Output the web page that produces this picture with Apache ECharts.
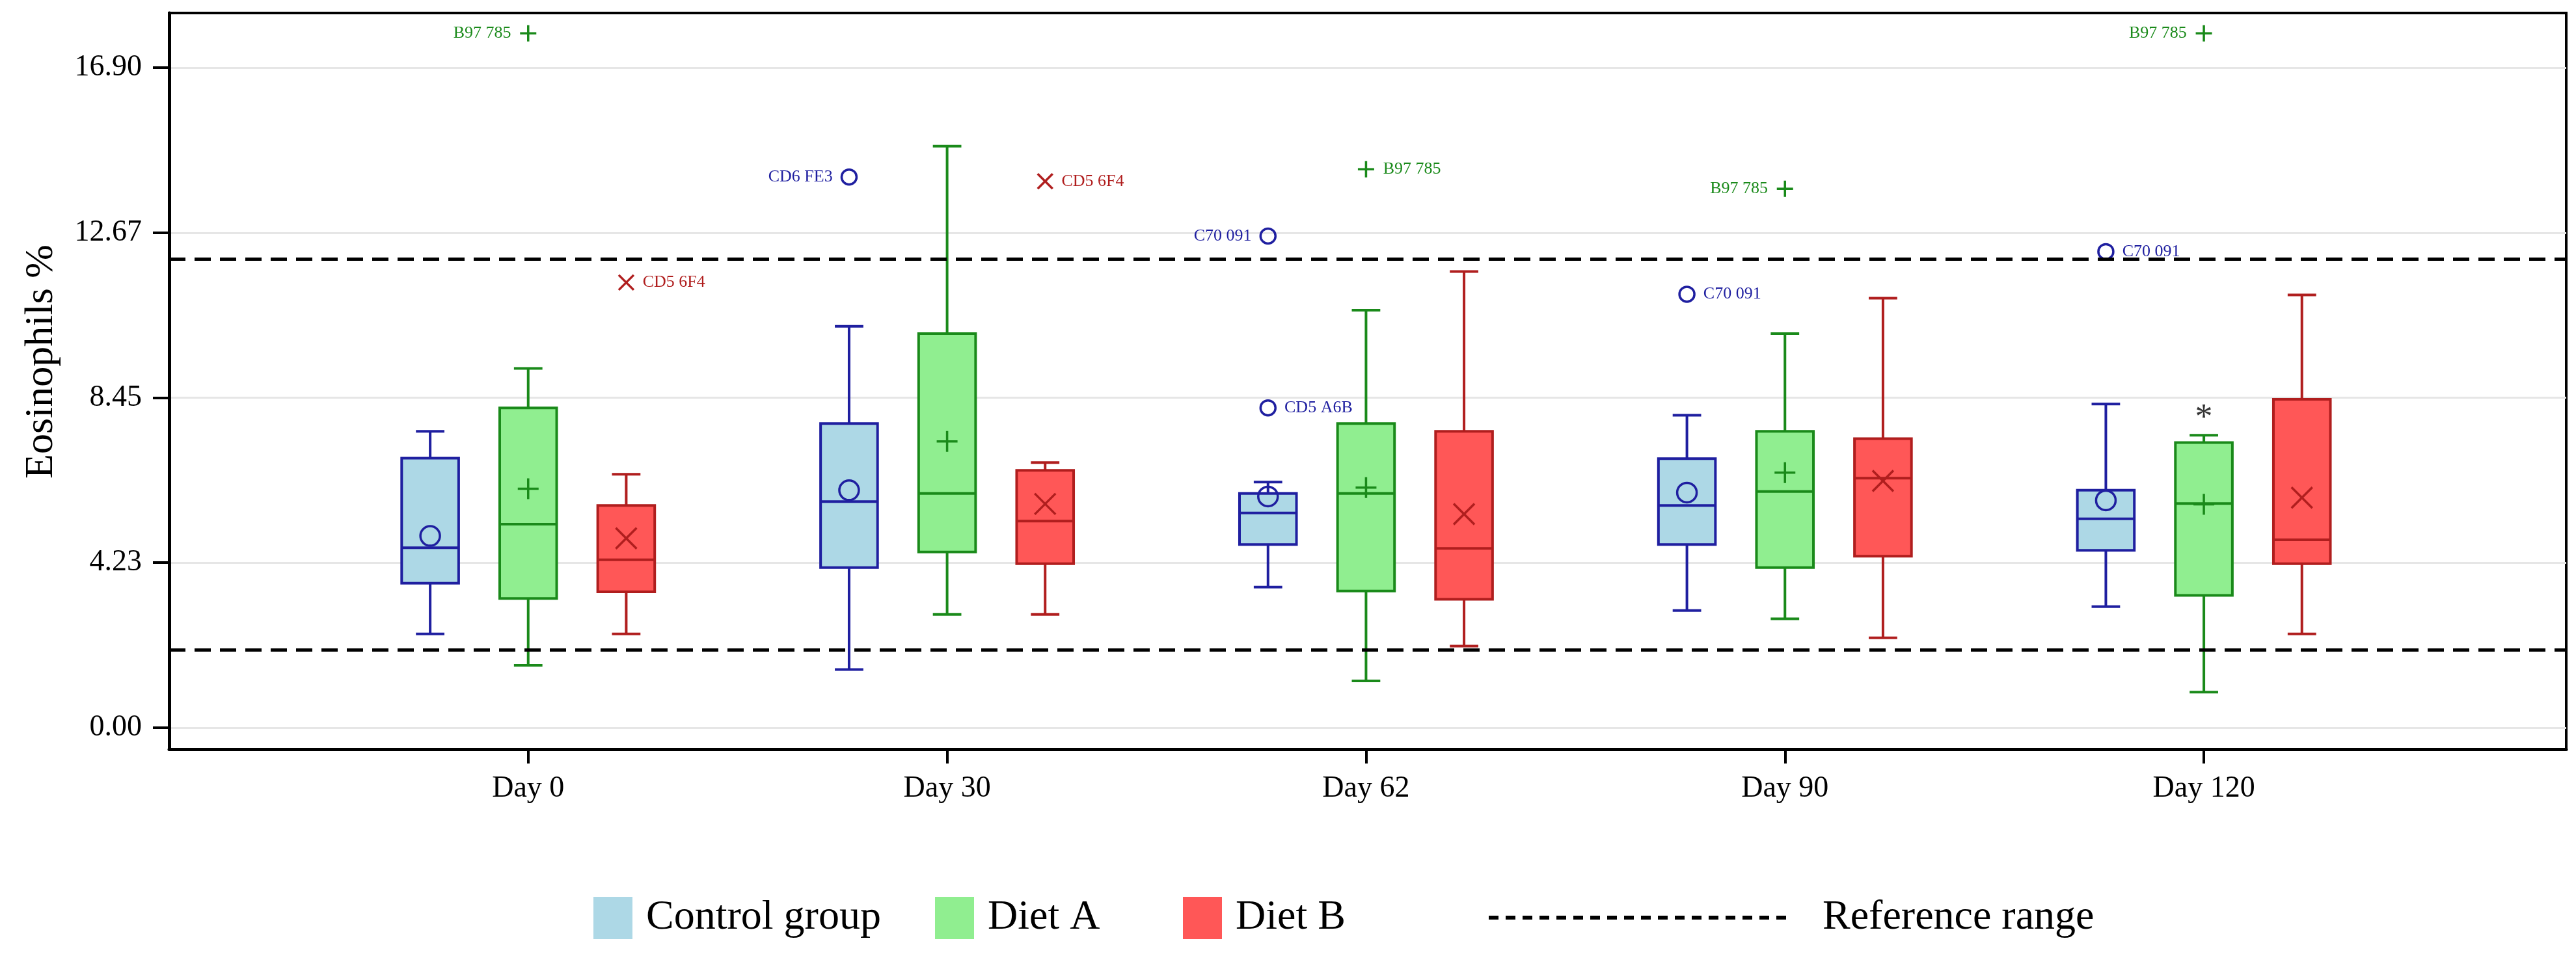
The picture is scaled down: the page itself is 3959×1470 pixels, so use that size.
<!DOCTYPE html>
<html>
<head>
<meta charset="utf-8">
<title>Eosinophils %</title>
<script src="https://cdn.jsdelivr.net/npm/echarts@6/dist/echarts.min.js"></script>
<style>
  html, body { margin: 0; padding: 0; background: #fff; }
  #chart { width: 3959px; height: 1470px; }
</style>
</head>
<body>
<div id="chart"></div>
<script>
// sampling days
var dayLabels = ['Day 0', 'Day 30', 'Day 62', 'Day 90', 'Day 120'];

// y axis ticks and printed labels
var yTickValues = [0, 4.225, 8.45, 12.675, 16.9];
var yTickLabels = ['0.00', '4.23', '8.45', '12.67', '16.90'];

// reference range limits
var refRange = [2, 12];

// per day: [lower whisker, Q1, median, Q3, upper whisker]
var controlBox = [
  [2.40, 3.70, 4.61, 6.90, 7.59],
  [1.49, 4.10, 5.79, 7.79, 10.28],
  [3.60, 4.69, 5.50, 6.00, 6.29],
  [3.00, 4.69, 5.69, 6.89, 8.00],
  [3.10, 4.54, 5.35, 6.08, 8.29]
];
var dietABox = [
  [1.60, 3.31, 5.21, 8.19, 9.20],
  [2.90, 4.50, 6.00, 10.09, 14.89],
  [1.20, 3.50, 6.00, 7.79, 10.69],
  [2.79, 4.10, 6.05, 7.59, 10.09],
  [0.91, 3.39, 5.74, 7.30, 7.49]
];
var dietBBox = [
  [2.40, 3.48, 4.30, 5.69, 6.49],
  [2.90, 4.20, 5.29, 6.59, 6.79],
  [2.09, 3.29, 4.59, 7.59, 11.68],
  [2.30, 4.39, 6.39, 7.40, 11.00],
  [2.40, 4.20, 4.81, 8.41, 11.08]
];

// group means per day
var controlMean = [4.91, 6.08, 5.92, 6.02, 5.82];
var dietAMean = [6.12, 7.33, 6.15, 6.53, 5.72];
var dietBMean = [4.85, 5.73, 5.47, 6.32, 5.89];

// outliers: [day index, value, animal id, label side]
var controlOutliers = [
  [1, 14.10, 'CD6 FE3', 'left'],
  [2, 12.59, 'C70 091', 'left'],
  [2, 8.19, 'CD5 A6B', 'right'],
  [3, 11.10, 'C70 091', 'right'],
  [4, 12.19, 'C70 091', 'right']
];
var dietAOutliers = [
  [0, 17.78, 'B97 785', 'left'],
  [2, 14.30, 'B97 785', 'right'],
  [3, 13.80, 'B97 785', 'left'],
  [4, 17.78, 'B97 785', 'left']
];
var dietBOutliers = [
  [0, 11.40, 'CD5 6F4', 'right'],
  [1, 13.99, 'CD5 6F4', 'right']
];

// significance mark (Diet A): [day index, value]
var starMarks = [[4, 8.06]];

var FONT = 'Liberation Serif';
var BOX_WIDTH = 0.136;
var CAP_WIDTH = 0.068;
var PLUS = 'path://M0,5H10M5,0V10';
var CROSS = 'path://M0,0L10,10M10,0L0,10';

var groups = [
  { name: 'Control group', box: controlBox, mean: controlMean, outliers: controlOutliers,
    offset: -0.234, fill: '#add8e6', stroke: '#1f1fa0', symbol: 'circle', meanSize: 30, outSize: 23 },
  { name: 'Diet A', box: dietABox, mean: dietAMean, outliers: dietAOutliers,
    offset: 0, fill: '#90ee90', stroke: '#1a8a1a', symbol: PLUS, meanSize: 32, outSize: 25 },
  { name: 'Diet B', box: dietBBox, mean: dietBMean, outliers: dietBOutliers,
    offset: 0.234, fill: '#ff5757', stroke: '#b01e1e', symbol: CROSS, meanSize: 32, outSize: 23 }
];

function makeBoxRenderer(g) {
  return function (params, api) {
    var x = api.value(0) + g.offset;
    var low = api.coord([x, api.value(1)]);
    var q1 = api.coord([x, api.value(2)]);
    var med = api.coord([x, api.value(3)]);
    var q3 = api.coord([x, api.value(4)]);
    var high = api.coord([x, api.value(5)]);
    var half = api.size([BOX_WIDTH, 0])[0] / 2;
    var cap = api.size([CAP_WIDTH, 0])[0] / 2;
    var cx = med[0];
    var line = { stroke: g.stroke, lineWidth: 4 };
    return {
      type: 'group',
      children: [
        { type: 'line', shape: { x1: cx, y1: high[1], x2: cx, y2: q3[1] }, style: line },
        { type: 'line', shape: { x1: cx, y1: q1[1], x2: cx, y2: low[1] }, style: line },
        { type: 'line', shape: { x1: cx - cap, y1: high[1], x2: cx + cap, y2: high[1] }, style: line },
        { type: 'line', shape: { x1: cx - cap, y1: low[1], x2: cx + cap, y2: low[1] }, style: line },
        { type: 'rect', shape: { x: cx - half, y: q3[1], width: half * 2, height: q1[1] - q3[1] },
          style: { fill: g.fill, stroke: g.stroke, lineWidth: 4 } },
        { type: 'line', shape: { x1: cx - half, y1: med[1], x2: cx + half, y2: med[1] }, style: line }
      ]
    };
  };
}

var series = [];
groups.forEach(function (g) {
  series.push({
    name: g.name,
    type: 'custom',
    z: 3,
    itemStyle: { color: g.fill },
    encode: { x: 0, y: [1, 2, 3, 4, 5] },
    data: g.box.map(function (b, i) { return [i].concat(b); }),
    renderItem: makeBoxRenderer(g)
  });
  series.push({
    name: g.name + ' mean',
    type: 'scatter',
    z: 4,
    symbol: g.symbol,
    symbolSize: g.meanSize,
    itemStyle: { color: 'rgba(0,0,0,0)', borderColor: g.stroke, borderWidth: 3.5, opacity: 1 },
    data: g.mean.map(function (v, i) { return [i + g.offset, v]; })
  });
  series.push({
    name: g.name + ' outliers',
    type: 'scatter',
    z: 4,
    symbol: g.symbol,
    symbolSize: g.outSize,
    itemStyle: { color: 'rgba(0,0,0,0)', borderColor: g.stroke, borderWidth: 3.5, opacity: 1 },
    label: { show: true, formatter: '{b}', fontFamily: FONT, fontSize: 26, color: g.stroke, distance: 12 },
    data: g.outliers.map(function (o) {
      return { value: [o[0] + g.offset, o[1]], name: o[2], label: { position: o[3] } };
    })
  });
});

series.push({
  name: 'Significance',
  type: 'scatter',
  z: 5,
  symbol: 'circle',
  symbolSize: 1,
  itemStyle: { color: 'rgba(0,0,0,0)' },
  label: { show: true, position: 'inside', formatter: '*', fontFamily: FONT, fontSize: 54,
    color: '#000', offset: [0, 9] },
  data: starMarks.map(function (s) { return [s[0] + groups[1].offset, s[1]]; })
});

series.push({
  name: 'Reference range',
  type: 'line',
  z: 6,
  symbol: 'none',
  color: '#000',
  lineStyle: { color: '#000', width: 5, type: [25, 14] },
  data: [],
  markLine: {
    silent: true,
    symbol: 'none',
    label: { show: false },
    lineStyle: { color: '#000', width: 5, type: [25, 14] },
    data: refRange.map(function (v) { return { yAxis: v }; })
  }
});

// dashed icon for the reference range legend entry
var dashPath = 'path://';
for (var k = 0; k < 18; k++) {
  dashPath += 'M' + (k * 26) + ',0h15v6h-15z';
}

var legendText = { fontFamily: FONT, fontSize: 64, color: '#000' };
function legendFor(name, left, icon, w, h, pad) {
  return {
    left: left,
    top: 1374,
    orient: 'horizontal',
    selectedMode: false,
    itemWidth: w,
    itemHeight: h,
    itemStyle: { borderWidth: 0 },
    textStyle: Object.assign({}, legendText, { padding: [0, 0, 0, pad] }),
    data: [{ name: name, icon: icon }]
  };
}

var chart = echarts.init(document.getElementById('chart'), null, { renderer: 'canvas' });
chart.setOption({
  animation: false,
  backgroundColor: '#fff',
  grid: {
    left: 260, right: 15, top: 20, bottom: 318,
    show: true, borderColor: '#000', borderWidth: 4,
    outerBoundsMode: 'none'
  },
  legend: [
    legendFor('Control group', 907, 'rect', 60, 65, 16),
    legendFor('Diet A', 1432, 'rect', 60, 65, 16),
    legendFor('Diet B', 1813, 'rect', 60, 65, 16),
    Object.assign(legendFor('Reference range', 2283, dashPath, 471, 6, 44),
      { itemStyle: { color: '#000', borderWidth: 0 } })
  ],
  xAxis: {
    type: 'value',
    min: -0.857,
    max: 4.865,
    axisLine: { show: true, onZero: false, lineStyle: { color: '#000', width: 5 } },
    axisTick: { show: true, length: 22, lineStyle: { color: '#000', width: 4 },
      customValues: [0, 1, 2, 3, 4] },
    axisLabel: {
      customValues: [0, 1, 2, 3, 4],
      margin: 38,
      fontFamily: FONT, fontSize: 46, color: '#000',
      formatter: function (v) { return dayLabels[Math.round(v)]; }
    },
    splitLine: { show: false }
  },
  yAxis: {
    type: 'value',
    min: -0.55,
    max: 18.3,
    name: 'Eosinophils %',
    nameLocation: 'middle',
    nameGap: 165,
    nameRotate: 90,
    nameTextStyle: { fontFamily: FONT, fontSize: 62, color: '#000', padding: [0, 0, 0, 60] },
    axisLine: { show: true, onZero: false, lineStyle: { color: '#000', width: 5 } },
    axisTick: { show: true, length: 25, lineStyle: { color: '#000', width: 4 },
      customValues: yTickValues },
    axisLabel: {
      customValues: yTickValues,
      margin: 42,
      fontFamily: FONT, fontSize: 46, color: '#000',
      formatter: function (v) {
        for (var i = 0; i < yTickValues.length; i++) {
          if (Math.abs(yTickValues[i] - v) < 1e-6) return yTickLabels[i];
        }
        return '';
      }
    },
    splitLine: { show: true, lineStyle: { color: '#e6e6e6', width: 3 } }
  },
  series: series
});
</script>
</body>
</html>
